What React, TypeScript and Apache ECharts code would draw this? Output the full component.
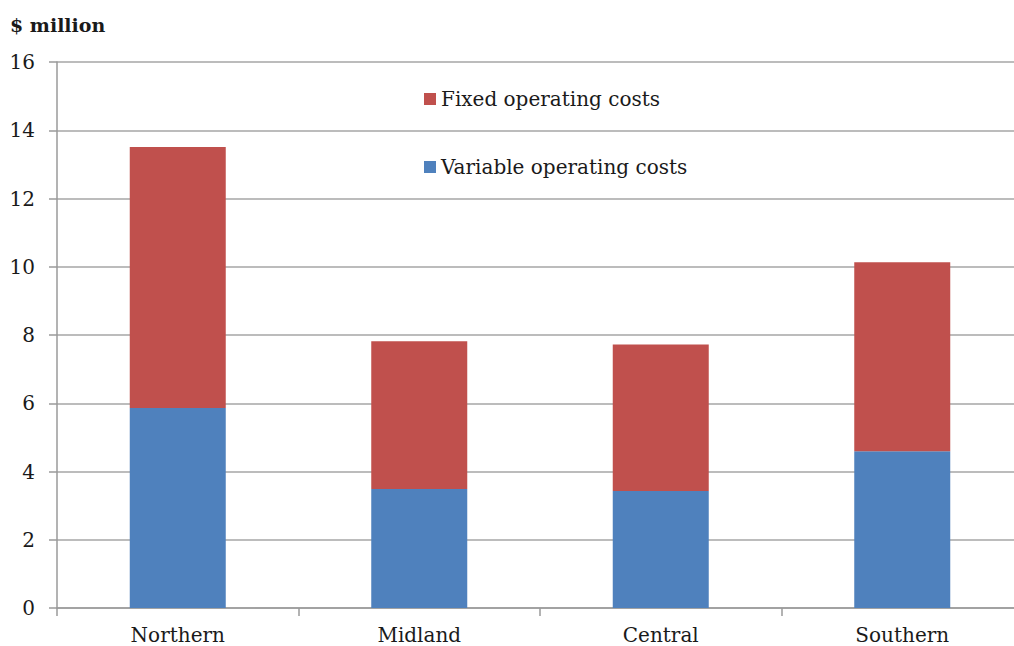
import React, { useEffect, useRef } from "react";
import * as echarts from "echarts";

const categories = ["Northern", "Midland", "Central", "Southern"];
const variableCosts = [5.86, 3.49, 3.43, 4.59];
const fixedCosts = [7.65, 4.33, 4.29, 5.54];
const yTicks = { min: 0, max: 16, interval: 2 };
const unitLabel = "$ million";

const FONT = "DejaVu Serif";

export default function App() {
  const ref = useRef<HTMLDivElement>(null);
  useEffect(() => {
    if (!ref.current) return;
    const chart = echarts.init(ref.current, undefined, { renderer: "svg" });
    chart.setOption({
      animation: false,
      backgroundColor: "#ffffff",
      textStyle: { fontFamily: FONT },
      graphic: [
        {
          type: "text",
          left: 10,
          top: 15,
          style: {
            text: unitLabel,
            fontFamily: FONT,
            fontWeight: "bold",
            fontSize: 19,
            fill: "#1a1a1a",
          },
        },
      ],
      legend: {
        orient: "vertical",
        left: 424,
        top: 89,
        padding: 0,
        itemWidth: 12,
        itemHeight: 12,
        itemGap: 48,
        icon: "rect",
        data: ["Fixed operating costs", "Variable operating costs"],
        textStyle: { fontFamily: FONT, fontSize: 20, color: "#1a1a1a" },
      },
      grid: {
        left: 57,
        top: 62,
        width: 966,
        height: 546,
        containLabel: false,
        outerBoundsMode: "none",
      },
      xAxis: {
        type: "category",
        data: categories,
        axisLine: { show: true, lineStyle: { color: "#9a9a9a", width: 1.5 } },
        axisTick: { show: true, length: 8, lineStyle: { color: "#9a9a9a", width: 1.5 } },
        axisLabel: {
          margin: 17,
          fontFamily: FONT,
          fontSize: 20,
          lineHeight: 20,
          color: "#1a1a1a",
        },
      },
      yAxis: {
        type: "value",
        min: yTicks.min,
        max: yTicks.max,
        interval: yTicks.interval,
        axisLine: { show: true, lineStyle: { color: "#9a9a9a", width: 1.5 } },
        axisTick: { show: true, length: 8, lineStyle: { color: "#9a9a9a", width: 1.5 } },
        splitLine: { show: true, lineStyle: { color: "#a6a6a6", width: 1.5 } },
        axisLabel: { margin: 22, fontFamily: FONT, fontSize: 20, color: "#1a1a1a" },
      },
      series: [
        {
          name: "Variable operating costs",
          type: "bar",
          stack: "total",
          barWidth: 96,
          data: variableCosts,
          itemStyle: { color: "#4F81BD" },
        },
        {
          name: "Fixed operating costs",
          type: "bar",
          stack: "total",
          barWidth: 96,
          data: fixedCosts,
          itemStyle: { color: "#C0504D" },
        },
      ],
    });
    return () => chart.dispose();
  }, []);
  return (
    <div
      style={{
        position: "fixed",
        left: 0,
        top: 0,
        width: 1014,
        height: 646,
        overflow: "hidden",
        background: "#fff",
      }}
    >
      <div ref={ref} style={{ width: 1014, height: 646 }} />
    </div>
  );
}
